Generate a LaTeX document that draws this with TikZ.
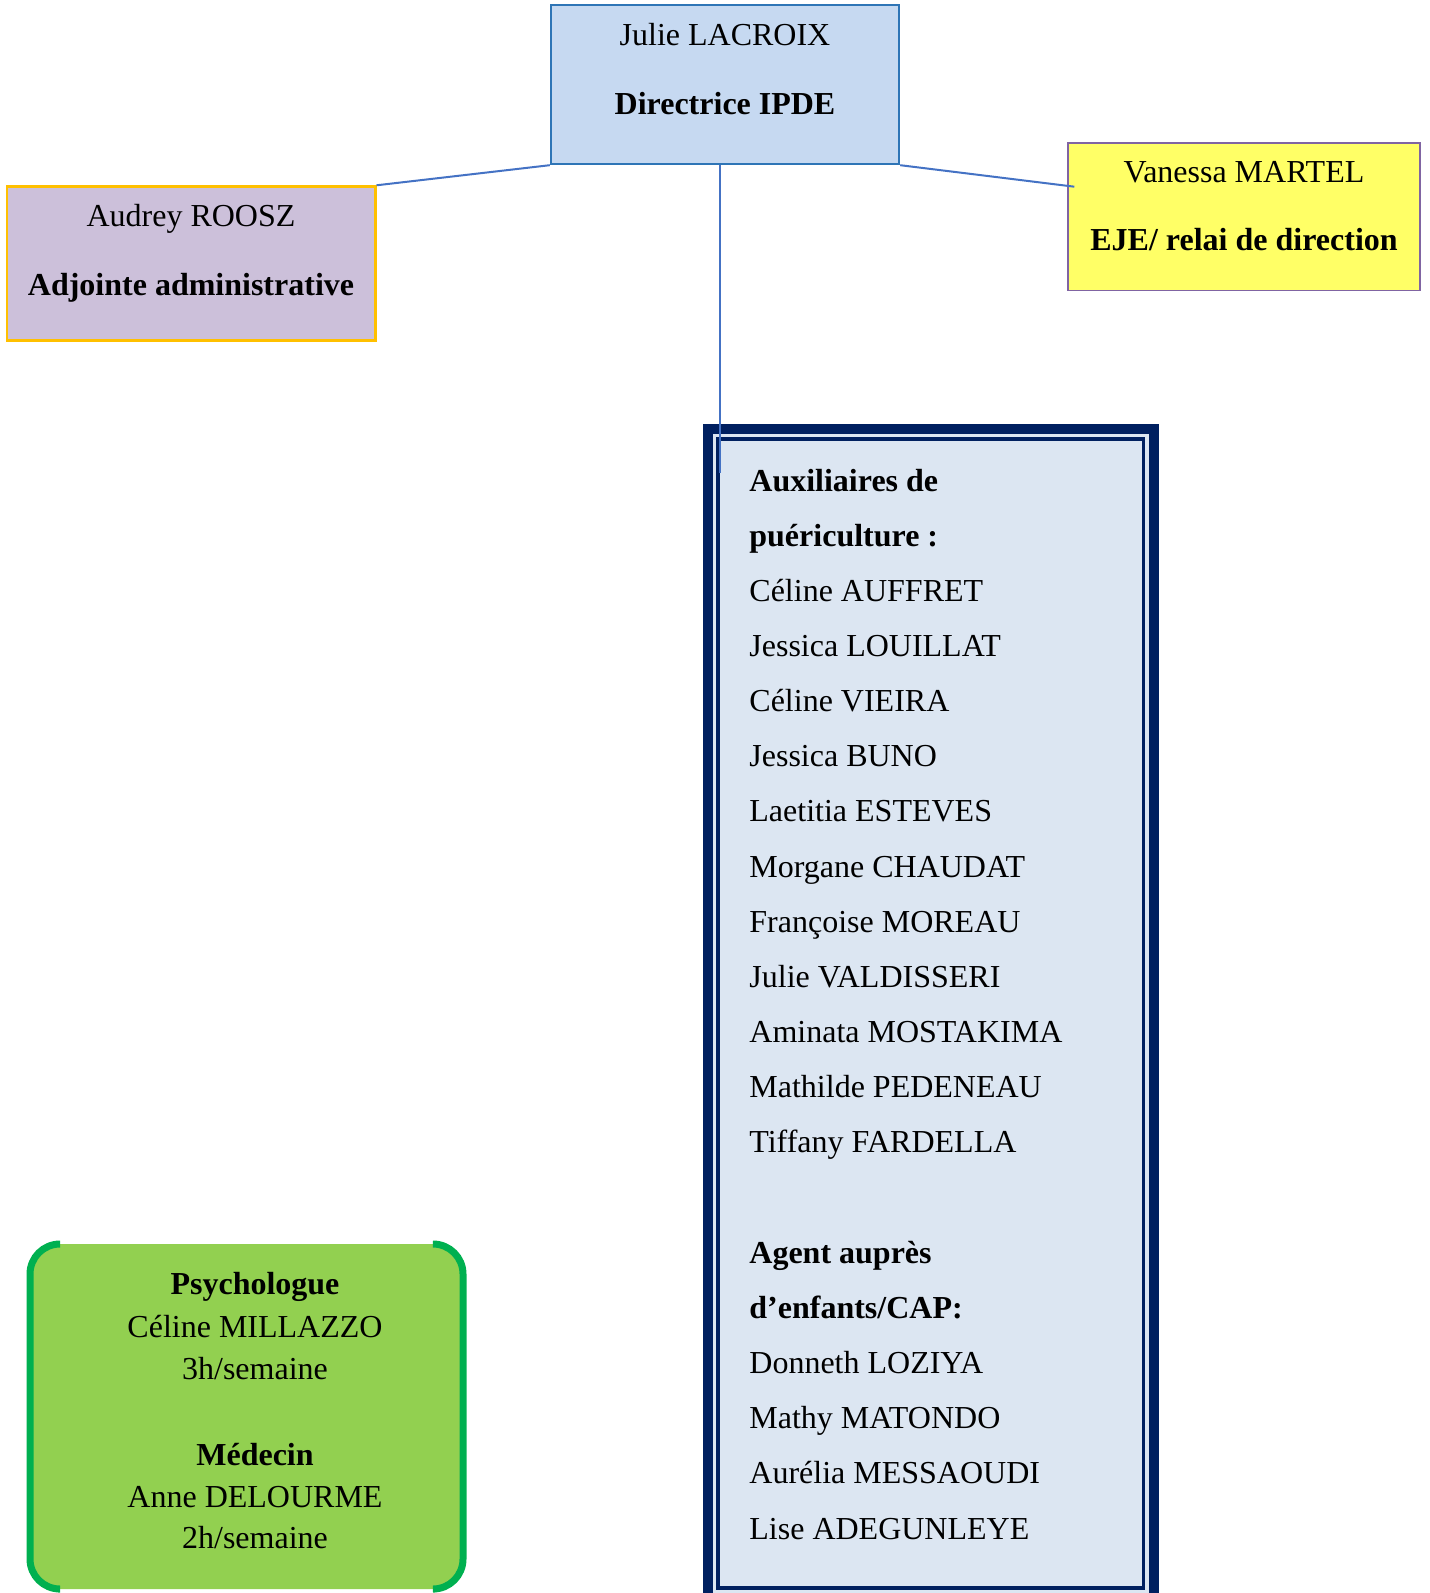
\documentclass[tikz,border=0pt]{standalone}
\usepackage{fontspec}
\setmainfont{Liberation Serif}
\usetikzlibrary{fit,calc}
\definecolor{topfill}{RGB}{198,217,241}
\definecolor{topline}{RGB}{46,117,182}
\definecolor{conn}{RGB}{68,114,196}
\definecolor{lfill}{RGB}{204,192,218}
\definecolor{lline}{RGB}{255,192,0}
\definecolor{rfill}{RGB}{255,255,102}
\definecolor{rline}{RGB}{128,100,162}
\definecolor{bigfill}{RGB}{220,230,242}
\definecolor{navy}{RGB}{0,32,96}
\definecolor{gfill}{RGB}{146,208,80}
\definecolor{gline}{RGB}{0,176,80}
\begin{document}
\begin{tikzpicture}[x=0.5pt,y=-0.5pt,
  txt/.style={inner sep=0pt, font=\fontsize{16}{19}\selectfont},
  btxt/.style={txt, font=\fontsize{16}{19}\selectfont\bfseries},
  boxnode/.style={inner sep=0pt},
  connline/.style={draw=conn, line width=1pt}]
\useasboundingbox (0,0) rectangle (1429,1593);
% big staff box
\begin{scope}
\clip (0,0) rectangle (1429,1593);
\node[boxnode, fit={(708.3,429.3) (1153.7,1598)}, fill=bigfill, draw=navy, line width=5pt] (staff) {};
\node[boxnode, fit={(718,439) (1143.4,1588)}, draw=navy, line width=1.75pt] (staffin) {};
\end{scope}
% top box
\node[boxnode, fit={(551,5) (899,164)}, fill=topfill, draw=topline, line width=1.2pt] (top) {};
\node[txt, anchor=base] (t1) at (725,45.7) {Julie LACROIX};
\node[btxt, anchor=base] (t2) at (725,115) {Directrice IPDE};
% left box
\node[boxnode, fit={(6.7,186.5) (375.3,340.5)}, fill=lfill, draw=lline, line width=1.2pt] (left) {};
\node[txt, anchor=base] (l1) at (191,226.7) {Audrey ROOSZ};
\node[btxt, anchor=base] (l2) at (191,296) {Adjointe administrative};
% right box
\node[boxnode, fit={(1067.7,143.3) (1420,290.7)}, fill=rfill, draw=rline, line width=0.8pt] (right) {};
\node[txt, anchor=base] (r1) at (1244,182.7) {Vanessa MARTEL};
\node[btxt, anchor=base] (r2) at (1244,250.7) {EJE/ relai de direction};
% connectors
\coordinate (rend) at (1074.3,186.7);
\coordinate (vend) at (720,473);
\draw[connline] (top.south west) -- (left.north east);
\draw[connline] (top.south east) -- (rend);
\draw[connline] (top.south -| vend) -- (vend);
% staff text
\def\dy{55.16}
\node[btxt, anchor=base west] (s0) at (749,491) {Auxiliaires de};
\node[btxt, anchor=base west] (s1) at (749,491+1*\dy) {puériculture :};
\node[txt, anchor=base west] (s2) at (749,491+2*\dy) {Céline AUFFRET};
\node[txt, anchor=base west] (s3) at (749,491+3*\dy) {Jessica LOUILLAT};
\node[txt, anchor=base west] (s4) at (749,491+4*\dy) {Céline VIEIRA};
\node[txt, anchor=base west] (s5) at (749,491+5*\dy) {Jessica BUNO};
\node[txt, anchor=base west] (s6) at (749,491+6*\dy) {Laetitia ESTEVES};
\node[txt, anchor=base west] (s7) at (749,491+7*\dy) {Morgane CHAUDAT};
\node[txt, anchor=base west] (s8) at (749,491+8*\dy) {Françoise MOREAU};
\node[txt, anchor=base west] (s9) at (749,491+9*\dy) {Julie VALDISSERI};
\node[txt, anchor=base west] (s10) at (749,491+10*\dy) {Aminata MOSTAKIMA};
\node[txt, anchor=base west] (s11) at (749,491+11*\dy) {Mathilde PEDENEAU};
\node[txt, anchor=base west] (s12) at (749,491+12*\dy) {Tiffany FARDELLA};
\node[btxt, anchor=base west] (s14) at (749,491+14*\dy) {Agent auprès};
\node[btxt, anchor=base west] (s15) at (749,491+15*\dy) {d’enfants/CAP:};
\node[txt, anchor=base west] (s16) at (749,491+16*\dy) {Donneth LOZIYA};
\node[txt, anchor=base west] (s17) at (749,491+17*\dy) {Mathy MATONDO};
\node[txt, anchor=base west] (s18) at (749,491+18*\dy) {Aurélia MESSAOUDI};
\node[txt, anchor=base west] (s19) at (749,491+19*\dy) {Lise ADEGUNLEYE};
% green box
\fill[gfill, rounded corners=15pt] (30,1244) rectangle (463,1589);
\draw[gline, line width=3.5pt, rounded corners=15pt] (58,1244) -- (30,1244) -- (30,1589) -- (58,1589);
\draw[gline, line width=3.5pt, rounded corners=15pt] (435,1244) -- (463,1244) -- (463,1589) -- (435,1589);
\node[btxt, anchor=base] (g1) at (255,1294) {Psychologue};
\node[txt, anchor=base] (g2) at (255,1337) {Céline MILLAZZO};
\node[txt, anchor=base] (g3) at (255,1379) {3h/semaine};
\node[btxt, anchor=base] (g4) at (255,1465) {Médecin};
\node[txt, anchor=base] (g5) at (255,1507) {Anne DELOURME};
\node[txt, anchor=base] (g6) at (255,1548) {2h/semaine};
\end{tikzpicture}
\end{document}
